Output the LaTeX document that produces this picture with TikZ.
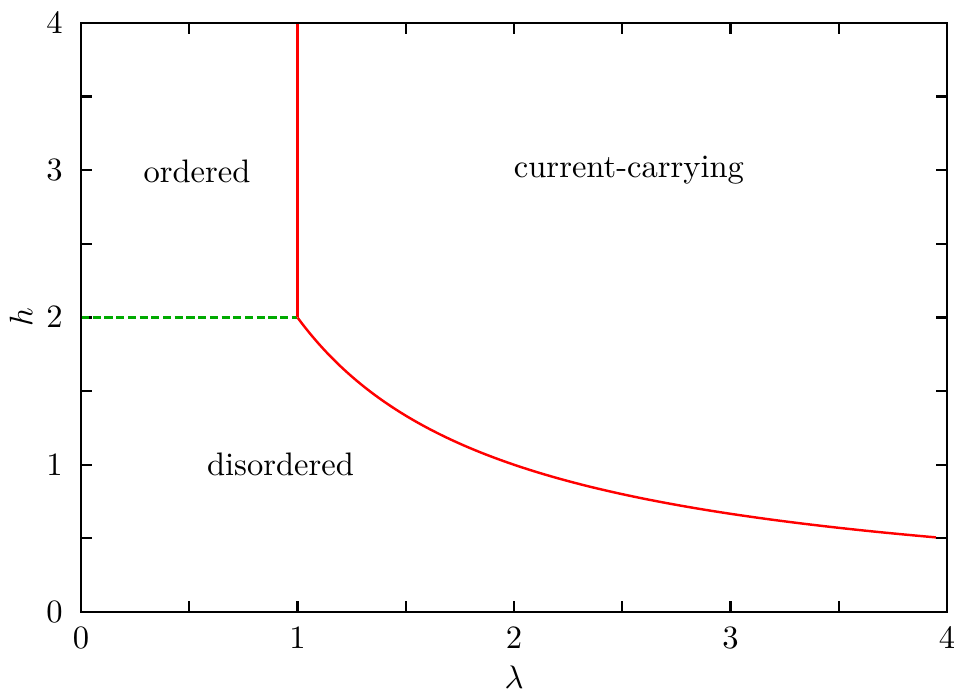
\documentclass[tikz,border=0pt]{standalone}
\usepackage{tikz}
\usetikzlibrary{positioning}
\definecolor{BoundRed}{RGB}{255,0,0}
\definecolor{BoundGreen}{RGB}{0,170,0}

\begin{document}
\begin{tikzpicture}[x=2.338cm, y=1.590cm,
    plotframe/.style={line width=0.8pt},
    tickmark/.style={line width=0.7pt},
    phaseline/.style={draw=BoundRed, line width=0.75pt},
    ticklbl/.style={inner sep=0pt}]
  \useasboundingbox (-0.3741,-0.5297) rectangle (4.0323,4.1562);

  % ticks on all four sides
  \foreach \i in {0,0.5,...,4} {
    \draw[tickmark] (\i,0) -- ++(0,0.119cm);
    \draw[tickmark] (\i,4) -- ++(0,-0.119cm);
    \draw[tickmark] (0,\i) -- ++(0.119cm,0);
    \draw[tickmark] (4,\i) -- ++(-0.119cm,0);
  }
  \foreach \i in {0,...,4} {
    \node[ticklbl, below=0.162cm] (xlbl\i) at (\i,0) {$\i$};
    \node[ticklbl, left=0.19cm] (ylbl\i) at (0,\i) {$\i$};
  }

  \coordinate (tricrit) at (1,2);
  \coordinate (topend) at (1,4);

  % phase boundaries
  \draw[draw=BoundGreen, line width=0.75pt, dash pattern=on 2.5pt off 1.1pt]
    (0,2) -- (tricrit);
  \draw[phaseline] (tricrit) -- (topend);
  \draw[phaseline, domain=1:3.95, samples=120, smooth] plot (\x, {2/\x});

  \draw[plotframe] (0,0) rectangle (4,4);

  % axis labels
  \node[rotate=90] (hlabel) at ([xshift=-0.648cm]0,2) {$h$};
  \node[inner sep=0pt] (lamlabel) at ([yshift=-0.70cm]2,0) {$\lambda$};

  % phases
  \node[anchor=base] (ordered) at (0.536,2.920) {ordered};
  \node[anchor=base] (current) at (2.531,2.954) {current-carrying};
  \node[anchor=base] (disordered) at (0.9215,0.930) {disordered};
\end{tikzpicture}
\end{document}
